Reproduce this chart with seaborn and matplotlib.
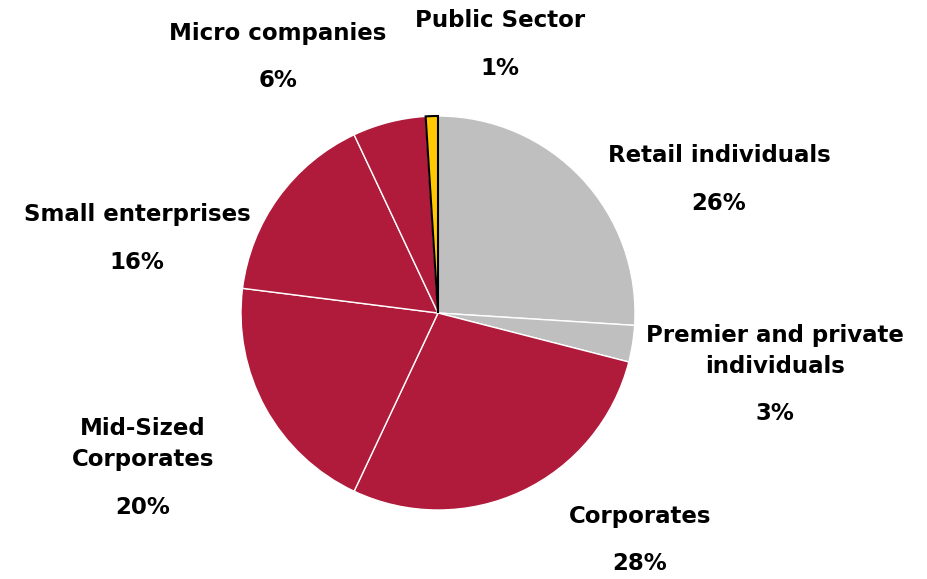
import matplotlib
matplotlib.use("Agg")
import matplotlib.pyplot as plt
import seaborn as sns

# Portfolio split by customer segment (clockwise from 12 o'clock)
segments = ["Retail individuals", "Premier and private\nindividuals", "Corporates",
            "Mid-Sized\nCorporates", "Small enterprises", "Micro companies", "Public Sector"]
shares = [26, 3, 28, 20, 16, 6, 1]
colors = ["#BFBFBF", "#BFBFBF", "#B01A3B", "#B01A3B", "#B01A3B", "#B01A3B", "#FFC800"]

# Label anchor points (figure pixels, top-left origin): name line centre, percent centre
label_pos = [(719, 155, 203), (775, 351, 414), (640, 517, 563),
             (143, 444, 507), (137, 214, 262), (278, 33, 80), (500, 20, 68)]

sns.set_theme(style="white")
plt.rcParams["font.family"] = ["DejaVu Sans"]

W, H = 928, 579
fig = plt.figure(figsize=(W / 100, H / 100), dpi=100)
ax = fig.add_axes([0, 0, 1, 1])

wedges, _ = ax.pie(shares, colors=colors, startangle=90, counterclock=False,
                   center=(438, H - 313), radius=197,
                   wedgeprops=dict(edgecolor="white", linewidth=1.0))
wedges[-1].set_edgecolor("black")
wedges[-1].set_linewidth(1.5)
wedges[-1].set_zorder(5)

ax.set_xlim(0, W)
ax.set_ylim(0, H)
ax.set_aspect("equal")
ax.axis("off")

for name, val, (x, yn, yp) in zip(segments, shares, label_pos):
    ax.text(x, H - yn, name, ha="center", va="center", fontsize=16.5,
            fontweight="bold", color="black", linespacing=1.45)
    ax.text(x, H - yp, f"{val}%", ha="center", va="center", fontsize=16.5,
            fontweight="bold", color="black")

fig.savefig("out.png", dpi=100, facecolor="white")
